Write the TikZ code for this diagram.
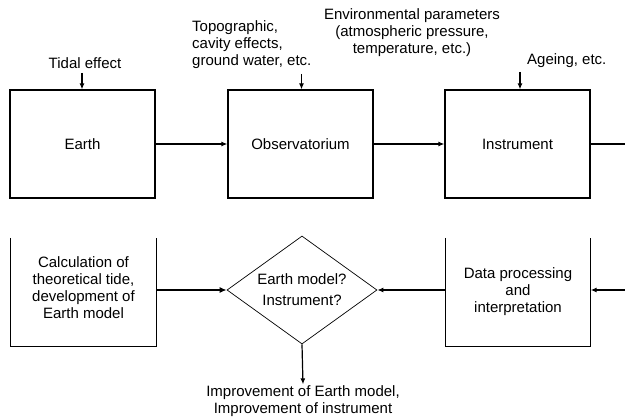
\documentclass[tikz,border=0pt]{standalone}
\usepackage{fontspec}
\setmainfont{Liberation Sans}
\usetikzlibrary{arrows.meta,shapes.geometric}
\begin{document}
\begin{tikzpicture}[x=1pt,y=-1pt,
  font=\fontsize{15}{17}\selectfont,
  box/.style={draw, line width=1.2pt, minimum width=145pt, minimum height=108pt, inner sep=0pt, align=center},
  frame/.style={minimum width=145pt, minimum height=108pt, inner sep=0pt},
  txt/.style={inner sep=0pt, align=center},
  edge/.style={line width=1.2pt},
  arr/.style={line width=1.2pt, -{Latex[length=6pt,width=5pt]}},
  thickarr/.style={line width=2.4pt, -{Latex[length=7pt,width=6pt]}},
  decision/.style={diamond, draw, line width=0.7pt, aspect=1.389, minimum width=150pt, minimum height=108pt, inner sep=0pt, align=center, font=\fontsize{15}{21}\selectfont}
]
\useasboundingbox (0,0) rectangle (625,420);

% top row
\node[box] (earth) at (82.5,144) {Earth};
\node[box] (obs) at (300.5,144) {Observatorium};
\node[box] (instr) at (517.5,144) {Instrument};

% labels of the top row
\node[txt] (tidal) at (85,63) {Tidal effect};
\node[txt, anchor=west, align=left] (topo) at (192,45) {Topographic,\\cavity effects,\\ground water, etc.};
\node[txt] (env) at (412,33) {Environmental parameters\\(atmospheric pressure,\\temperature, etc.)};
\node[txt, anchor=west] (ageing) at (527,61) {Ageing, etc.};

\coordinate (tidalin) at (82,73);
\coordinate (topoin) at (301.5,74);
\coordinate (ageingin) at (520,72);
\draw[arr] (tidalin) -- (tidalin |- earth.north);
\draw[arr] (topoin) -- (topoin |- obs.north);
\draw[arr] (ageingin) -- (ageingin |- instr.north);

% top connectors
\draw[arr] (earth.east) -- (obs.west);
\draw[arr] (obs.east) -- (instr.west);
\coordinate (outR) at (625,144);
\draw[edge] (instr.east) -- (outR);

% bottom row
\node[frame] (calcbox) at (83.5,292) {};
\node[txt] (calctext) at (83.5,288) {Calculation of\\theoretical tide,\\development of\\Earth model};
\draw[edge] (calcbox.north west) -- (calcbox.south west) -- (calcbox.south east) -- (calcbox.north east);

\node[decision] (diam) at (302,290) {Earth model?\\Instrument?};

\node[frame, align=center] (data) at (518,292) {Data processing\\and\\interpretation};
\draw[edge] (data.north west) -- (data.south west) -- (data.south east) -- (data.north east);

\node[txt, inner sep=1pt] (improve) at (303,401) {Improvement of Earth model,\\Improvement of instrument};

% bottom connectors
\coordinate (inR) at (625,290);
\draw[arr] (inR) -- (inR -| data.east);
\draw[arr] (diam.east -| data.west) -- (diam.east);
\draw[thickarr] (diam.west -| calcbox.east) -- (diam.west);
\draw[arr] (diam.south) -- (improve.north);
\end{tikzpicture}
\end{document}
